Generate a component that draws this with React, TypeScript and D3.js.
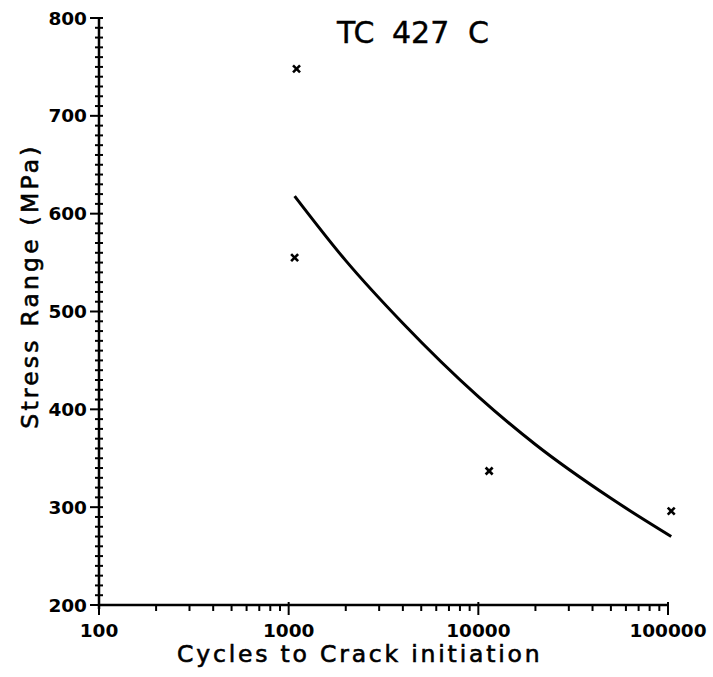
import React from "react";
import * as d3 from "d3";

// Fatigue test data: stress range vs. cycles to crack initiation
const specimenCycles = [1100, 1075, 11400, 104000];
const specimenStress = [748, 555, 337, 296];

// Fitted S-N curve, read at a few cycle counts
const fitCycles = [1075, 2000, 4000, 10000, 20000, 50000, 104000];
const fitStress = [618, 552, 488, 413, 364, 309, 270];

const xMajorTicks = [100, 1000, 10000, 100000];
const yMajorTicks = [200, 300, 400, 500, 600, 700, 800];

const W = 713;
const H = 677;

export default function App() {
  const x = d3.scaleLog().domain([100, 100000]).range([99, 668]);
  const y = d3.scaleLinear().domain([200, 800]).range([605, 18]);

  const yMinor = d3.range(200, 801, 10).filter((v) => v % 100 !== 0);
  const xMinor: number[] = [];
  for (let dec = 100; dec < 100000; dec *= 10) {
    for (let m = 2; m <= 9; m++) xMinor.push(dec * m);
  }

  const fitData = fitCycles.map((n, i) => [n, fitStress[i]] as [number, number]);
  const line = d3
    .line<[number, number]>()
    .x((d) => x(d[0]))
    .y((d) => y(d[1]))
    .curve(d3.curveMonotoneX);

  const font = "'DejaVu Sans', sans-serif";

  return (
    <svg
      width={W}
      height={H}
      viewBox={`0 0 ${W} ${H}`}
      style={{ position: "absolute", left: 0, top: 0, background: "#fff" }}
    >
      {/* axes */}
      <line x1={x(100)} x2={x(100)} y1={y(800)} y2={y(200) + 4} stroke="#000" strokeWidth={2.5} />
      <line x1={x(100)} x2={x(100000)} y1={y(200)} y2={y(200)} stroke="#000" strokeWidth={2.5} />

      {/* y ticks */}
      {yMinor.map((v) => (
        <line key={`ym${v}`} x1={x(100) - 4} x2={x(100) + 4} y1={y(v)} y2={y(v)} stroke="#000" strokeWidth={2} />
      ))}
      {yMajorTicks.map((v) => (
        <g key={`yM${v}`}>
          <line x1={x(100) - 9} x2={x(100) + 4} y1={y(v)} y2={y(v)} stroke="#000" strokeWidth={2} />
          <text
            x={x(100) - 12}
            y={y(v)}
            dy="0.36em"
            textAnchor="end"
            fontFamily={font}
            fontWeight="bold"
            fontSize={18.5}
          >
            {v}
          </text>
        </g>
      ))}

      {/* x ticks */}
      {xMinor.map((v) => (
        <line key={`xm${v}`} x1={x(v)} x2={x(v)} y1={y(200)} y2={y(200) + 6} stroke="#000" strokeWidth={2} />
      ))}
      {xMajorTicks.map((v) => (
        <g key={`xM${v}`}>
          <line x1={x(v)} x2={x(v)} y1={y(200) - 3} y2={y(200) + 10} stroke="#000" strokeWidth={2} />
          <text
            x={x(v)}
            y={637}
            textAnchor="middle"
            fontFamily={font}
            fontWeight="bold"
            fontSize={18.5}
          >
            {v}
          </text>
        </g>
      ))}

      {/* fitted curve */}
      <path d={line(fitData) ?? ""} fill="none" stroke="#000" strokeWidth={3} />

      {/* specimen markers */}
      {specimenCycles.map((n, i) => {
        const cx = x(n);
        const cy = y(specimenStress[i]);
        const r = 3.5;
        return (
          <g key={`p${i}`} stroke="#000" strokeWidth={2.6}>
            <line x1={cx - r} y1={cy - r} x2={cx + r} y2={cy + r} />
            <line x1={cx - r} y1={cy + r} x2={cx + r} y2={cy - r} />
          </g>
        );
      })}

      {/* title */}
      <text y={43} fontFamily={font} fontSize={30} stroke="#000" strokeWidth={0.4}>
        <tspan x={337}>TC</tspan>
        <tspan x={392}>427</tspan>
        <tspan x={468}>C</tspan>
      </text>

      {/* axis titles */}
      <text
        x={177}
        y={662}
        fontFamily={font}
        fontSize={23.5}
        letterSpacing={2.8}
        stroke="#000"
        strokeWidth={0.6}
      >
        Cycles to Crack initiation
      </text>
      <text
        transform="translate(38,286) rotate(-90)"
        textAnchor="middle"
        fontFamily={font}
        fontSize={23.5}
        letterSpacing={3.2}
        stroke="#000"
        strokeWidth={0.6}
      >
        Stress Range (MPa)
      </text>
    </svg>
  );
}
